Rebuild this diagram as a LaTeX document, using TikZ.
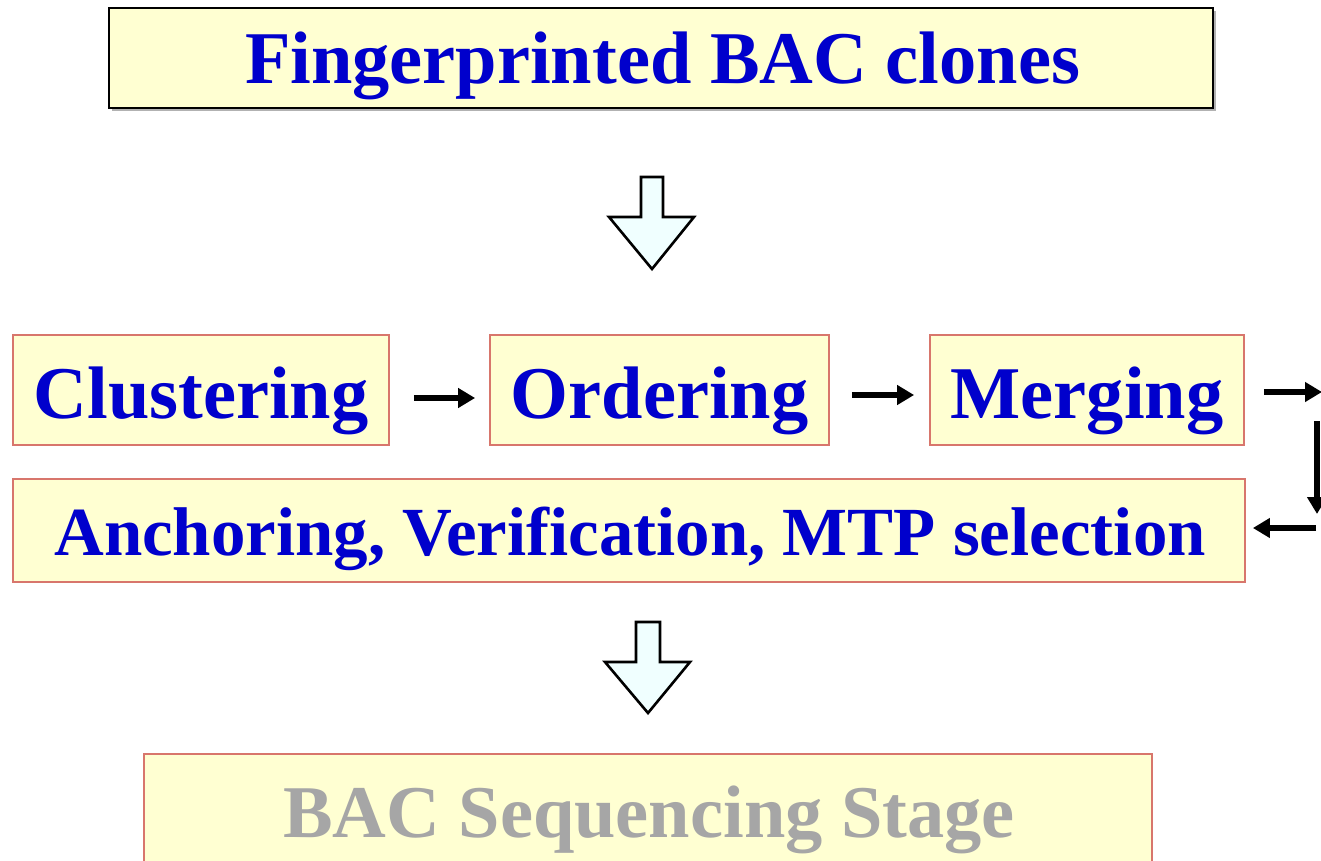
\documentclass[tikz,border=0pt]{standalone}
\usepackage{fontspec}
\setmainfont{Liberation Serif}
\usetikzlibrary{arrows.meta}
\definecolor{boxfill}{HTML}{FFFFD2}
\definecolor{boxline}{HTML}{D8766C}
\definecolor{txtblue}{HTML}{0000CC}
\definecolor{txtgray}{HTML}{A6A6A6}
\definecolor{arrfill}{HTML}{F0FFFF}
\begin{document}
\begin{tikzpicture}[x=1pt,y=-1pt,
  redbox/.style={draw=boxline,line width=1.8pt,fill=boxfill,inner sep=0pt},
  topbox/.style={draw=black,line width=2.2pt,fill=boxfill,inner sep=0pt},
  lbl/.style={font=\bfseries\fontsize{74.4}{80}\selectfont,text=txtblue,anchor=base,inner sep=0pt},
  lblsmall/.style={font=\bfseries\fontsize{68.9}{74}\selectfont,text=txtblue,anchor=base,inner sep=0pt},
  conn/.style={line width=5.5pt,-{Triangle[length=17pt,width=19pt]}},
  hollow/.style={draw=black,line width=2.6pt,fill=arrfill,line join=miter}
]
\useasboundingbox (0,0) rectangle (1321,861);
% top box with shadow
\fill[gray!60] (112,11) rectangle (1216,111);
\node[topbox,minimum width=1104pt,minimum height=100pt] (top) at (661,58) {};
\node[lbl] (toptxt) at (662.5,84) {Fingerprinted BAC clones};
% hollow arrow 1
\draw[hollow] (641,177) -- (663,177) -- (663,217) -- (694,217) -- (652,269) -- (609,217) -- (641,217) -- cycle;
% row boxes
\node[redbox,minimum width=376pt,minimum height=110pt] (clus) at (201,390) {};
\node[lbl] at (201,418) {Clustering};
\node[redbox,minimum width=339pt,minimum height=110pt] (ord) at (659.5,390) {};
\node[lbl] at (659.5,418) {Ordering};
\node[redbox,minimum width=314pt,minimum height=110pt] (merg) at (1087,390) {};
\node[lbl] at (1087,418) {Merging};
\node[redbox,minimum width=1232pt,minimum height=103pt] (anch) at (629,530.5) {};
\node[lblsmall] at (630,555) {Anchoring, Verification, MTP selection};
% connectors
\draw[conn] ([xshift=24pt,yshift=-8pt]clus.east) -- ([xshift=-14pt,yshift=-8pt]ord.west);
\draw[conn] ([xshift=22pt,yshift=-5pt]ord.east) -- ([xshift=-15pt,yshift=-5pt]merg.west);
\coordinate (r0) at (1322,392);
\coordinate (r1) at (1317,421);
\coordinate (r2) at (1317,514);
\coordinate (r3) at (1316,528);
\draw[conn] ([xshift=19pt,yshift=-2pt]merg.east) -- (r0);
\draw[conn] (r1) -- (r2);
\draw[conn] (r3) -- ([xshift=7pt,yshift=2.5pt]anch.east);
% hollow arrow 2
\draw[hollow] (636,622) -- (660,622) -- (660,662) -- (690,662) -- (648,713) -- (605,662) -- (636,662) -- cycle;
% bottom box
\node[redbox,minimum width=1008pt,minimum height=130pt] (bac) at (648,819) {};
\node[lbl,text=txtgray] at (649,837) {BAC Sequencing Stage};
\end{tikzpicture}
\end{document}
